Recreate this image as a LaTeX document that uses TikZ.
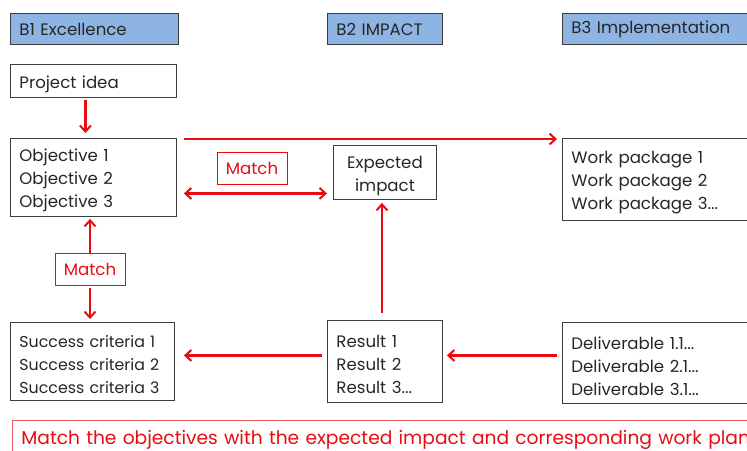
\documentclass[tikz,border=0pt]{standalone}
\usepackage{fontspec}
\setmainfont{Poppins}
\usetikzlibrary{arrows.meta}
\definecolor{hdrblue}{RGB}{142,180,227}
\definecolor{boxgray}{RGB}{60,60,60}
\definecolor{myred}{RGB}{232,12,18}
\definecolor{lightred}{RGB}{235,90,90}
\tikzset{
  hdr/.style={draw=boxgray, fill=hdrblue, line width=0.9pt, anchor=north west, minimum height=31pt, inner xsep=9pt, inner ysep=0pt, align=left, text=black!85, font=\fontsize{16.6}{23}\selectfont},
  txtbox/.style={draw=boxgray, line width=0.9pt, anchor=north west, inner xsep=9pt, inner ysep=0pt, align=left, text=black!85, font=\fontsize{16.6}{23}\selectfont, execute at begin node={\rule{0pt}{18.5pt}}},
  matchbox/.style={draw=myred, line width=0.7pt, text=myred, minimum width=70pt, minimum height=32pt, inner sep=0pt, font=\fontsize{16.6}{23}\selectfont},
  arr/.style={draw=myred, line width=2.4pt, -{Straight Barb[length=6pt,width=11pt,line width=2pt]}},
  darr/.style={draw=myred, line width=2.4pt, {Straight Barb[length=6pt,width=11pt,line width=2pt]}-{Straight Barb[length=6pt,width=11pt,line width=2pt]}}
}
\begin{document}
\begin{tikzpicture}[x=1pt,y=-1pt]
\useasboundingbox (0,0) rectangle (747,450);
\clip (0,0) rectangle (747,450);
% headers
\node[hdr, text width=150pt] (b1) at (10,13) {B1 Excellence};
\node[hdr, text width=97pt] (b2) at (327,13) {B2 IMPACT};
\node[hdr, text width=210pt] (b3) at (562,13) {B3 Implementation};
% boxes
\node[txtbox, text width=148pt, minimum height=33pt, execute at begin node={}] (idea) at (10,64) {Project idea};
\node[txtbox, text width=148pt, minimum height=78pt] (obj) at (10,138) {Objective 1\\Objective 2\\Objective 3};
\node[txtbox, text width=85pt, minimum height=54pt, align=center, inner xsep=9pt, execute at begin node={}] (exp) at (333,145) {Expected\\impact};
\node[txtbox, text width=210pt, minimum height=82pt] (wp) at (562,138) {Work package 1\\Work package 2\\Work package 3...};
\node[txtbox, text width=146pt, minimum height=78pt, font=\fontsize{15.8}{23}\selectfont] (succ) at (10,322) {Success criteria 1\\Success criteria 2\\Success criteria 3};
\node[txtbox, text width=97pt, minimum height=82pt] (res) at (327,320) {Result 1\\Result 2\\Result 3...};
\node[txtbox, text width=210pt, minimum height=81pt] (del) at (562,322) {Deliverable 1.1...\\Deliverable 2.1...\\Deliverable 3.1...};
% bottom note
\node[draw=lightred, line width=0.7pt, anchor=north west, minimum height=40pt, text width=800pt, inner xsep=9pt, inner ysep=0pt, align=left, text=myred, font=\fontsize{18.65}{22}\selectfont] (note) at (12,420) {\raisebox{-5pt}{Match the objectives with the expected impact and corresponding work plan}};
% match labels
\node[matchbox] (m1) at (252,168) {Match};
\node[matchbox] (m2) at (90,269) {Match};
% connectors
\draw[arr, shorten <=2pt, shorten >=5pt] ([xshift=-8pt]idea.south) -- ([xshift=-8pt]idea.south |- obj.north);
\draw[arr, shorten <=7pt, shorten >=5pt] ([yshift=-1pt]obj.north east) -- ([yshift=-1pt]wp.north west);
\draw[darr, shorten <=7pt, shorten >=6pt] ([yshift=-16pt]obj.east) -- ([yshift=-16pt]obj.east -| exp.west);
\draw[arr, shorten >=2pt] (m2.north) -- (m2.north |- obj.south);
\draw[arr, shorten <=3pt, shorten >=3pt] (m2.south) -- (m2.south |- succ.north);
\draw[arr, shorten <=7pt, shorten >=3pt] ([xshift=-3pt]res.north) -- ([xshift=-3pt]res.north |- exp.south);
\draw[arr, shorten <=5pt, shorten >=9pt] ([yshift=6pt]res.west) -- ([yshift=6pt]res.west -| succ.east);
\draw[arr, shorten <=5pt, shorten >=4pt] ([yshift=6pt]res.west -| del.west) -- ([yshift=6pt]res.east);
\end{tikzpicture}
\end{document}
